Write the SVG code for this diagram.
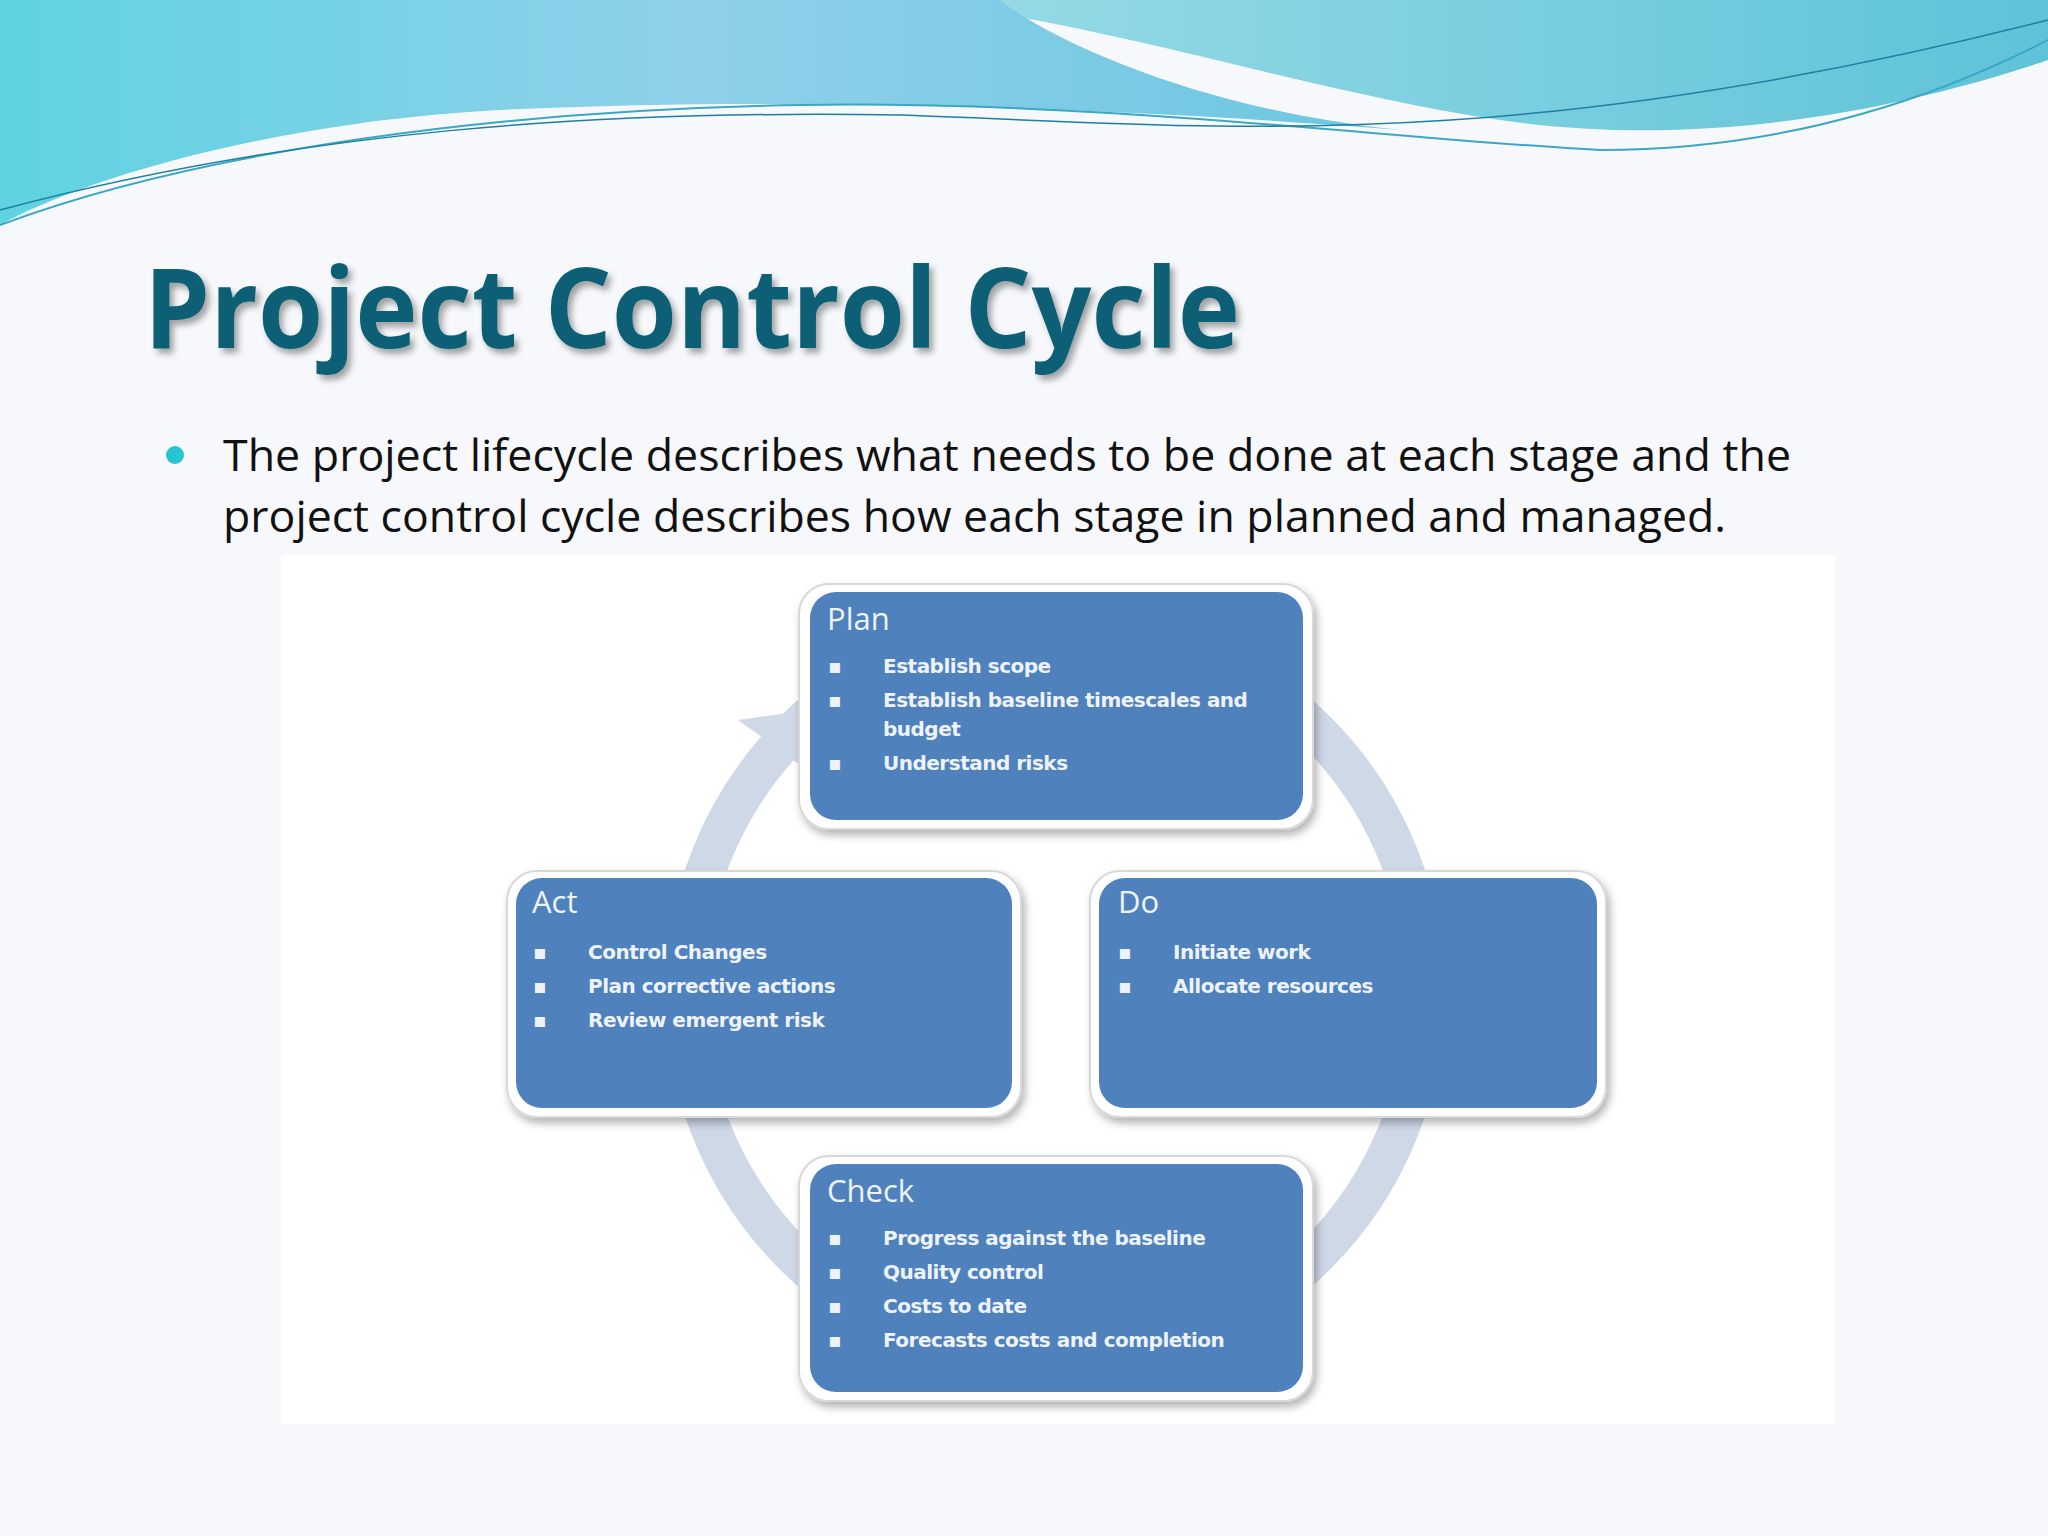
<svg xmlns="http://www.w3.org/2000/svg" width="2048" height="1536" viewBox="0 0 2048 1536">
<defs>
<linearGradient id="w1" x1="0" y1="0" x2="1" y2="0"><stop offset="0" stop-color="#5fd3e0"/><stop offset="0.5" stop-color="#8fd0ea"/><stop offset="1" stop-color="#6cc6e0"/></linearGradient>
<linearGradient id="w2" x1="0" y1="0" x2="1" y2="0"><stop offset="0" stop-color="#c9eef2"/><stop offset="1" stop-color="#5ec3d8"/></linearGradient>
<filter id="sh" x="-10%" y="-10%" width="130%" height="130%"><feDropShadow dx="3" dy="5" stdDeviation="4" flood-color="#000" flood-opacity="0.3"/></filter>
<filter id="ts"><feDropShadow dx="4" dy="5" stdDeviation="3" flood-color="#000" flood-opacity="0.35"/></filter>
<style>
.outer{fill:#fff;stroke:#d8d8d8;stroke-width:2}
.inner{fill:#4f81bd}
.hd{font-family:"Open Sans","DejaVu Sans",sans-serif;font-size:31px;fill:#eef3fa}
.it{font-family:"DejaVu Sans",sans-serif;font-weight:bold;font-size:20px;fill:#eef3fa;letter-spacing:-0.5px}
</style>
</defs>
<rect width="2048" height="1536" fill="#f7f8fb"/>
<path d="M0 0 H2048 V60 C1900 110 1700 150 1500 120 C1300 90 1100 20 900 0 Z" fill="url(#w2)"/>
<path d="M0 0 H1000 C1050 40 1200 110 1400 130 C1150 110 800 95 500 110 C300 120 100 170 0 225 Z" fill="url(#w1)"/>
<path d="M0 225 C200 150 500 110 800 105 C1100 100 1400 140 1600 150 C1800 150 1950 90 2048 40" fill="none" stroke="#3aa7c4" stroke-width="2"/>
<path d="M0 210 C300 130 600 110 900 115 C1200 125 1500 160 2048 20" fill="none" stroke="#1e7fa0" stroke-width="1.5"/>
<text x="144" y="348" font-family="'Open Sans','DejaVu Sans',sans-serif" font-weight="bold" font-size="112" fill="#0f5f75" filter="url(#ts)" textLength="1096" lengthAdjust="spacingAndGlyphs">Project Control Cycle</text>
<circle cx="175" cy="455" r="9" fill="#27c4d4"/>
<g font-family="'Open Sans','DejaVu Sans',sans-serif" font-size="44" fill="#111">
<text x="223" y="471" textLength="1568" lengthAdjust="spacingAndGlyphs">The project lifecycle describes what needs to be done at each stage and the</text>
<text x="223" y="532" textLength="1503" lengthAdjust="spacingAndGlyphs">project control cycle describes how each stage in planned and managed.</text>
</g>
<rect x="281" y="555" width="1554" height="869" fill="#fff"/>
<g id="connectors">
<circle cx="1055" cy="993" r="370" fill="none" stroke="#cfd8e7" stroke-width="40"/>
<polygon points="738,720 800,765 795,712" fill="#cfd8e7"/>
</g>
<g id="plan">
<rect class="outer" x="799" y="584" width="514" height="245" rx="30" filter="url(#sh)"/>
<rect class="inner" x="810" y="592" width="493" height="228" rx="26"/>
<text class="hd" x="827" y="630">Plan</text>
<g class="it"><text x="828" y="673">▪</text><text x="883" y="673">Establish scope</text>
<text x="828" y="707">▪</text><text x="883" y="707">Establish baseline timescales and</text><text x="883" y="736">budget</text>
<text x="828" y="770">▪</text><text x="883" y="770">Understand risks</text></g>
</g>
<g id="act">
<rect class="outer" x="507" y="871" width="514" height="246" rx="30" filter="url(#sh)"/>
<rect class="inner" x="516" y="878" width="496" height="230" rx="26"/>
<text class="hd" x="532" y="913">Act</text>
<g class="it"><text x="533" y="959">▪</text><text x="588" y="959">Control Changes</text>
<text x="533" y="993">▪</text><text x="588" y="993">Plan corrective actions</text>
<text x="533" y="1027">▪</text><text x="588" y="1027">Review emergent risk</text></g>
</g>
<g id="do">
<rect class="outer" x="1090" y="871" width="516" height="246" rx="30" filter="url(#sh)"/>
<rect class="inner" x="1099" y="878" width="498" height="230" rx="26"/>
<text class="hd" x="1118" y="913">Do</text>
<g class="it"><text x="1118" y="959">▪</text><text x="1173" y="959">Initiate work</text>
<text x="1118" y="993">▪</text><text x="1173" y="993">Allocate resources</text></g>
</g>
<g id="check">
<rect class="outer" x="799" y="1156" width="514" height="245" rx="30" filter="url(#sh)"/>
<rect class="inner" x="810" y="1164" width="493" height="228" rx="26"/>
<text class="hd" x="827" y="1202">Check</text>
<g class="it"><text x="828" y="1245">▪</text><text x="883" y="1245">Progress against the baseline</text>
<text x="828" y="1279">▪</text><text x="883" y="1279">Quality control</text>
<text x="828" y="1313">▪</text><text x="883" y="1313">Costs to date</text>
<text x="828" y="1347">▪</text><text x="883" y="1347">Forecasts costs and completion</text></g>
</g>
</svg>
